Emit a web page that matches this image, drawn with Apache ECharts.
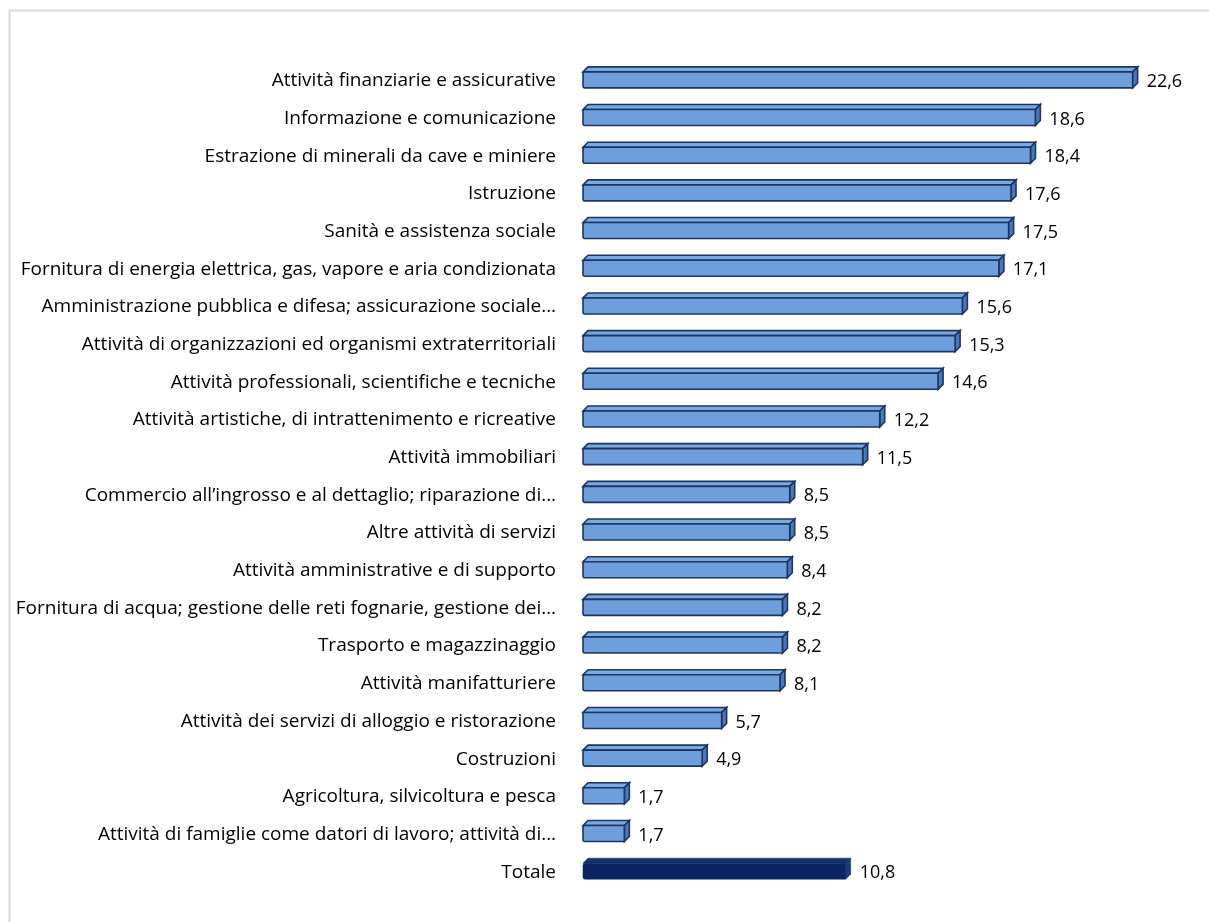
<!DOCTYPE html>
<html>
<head>
<meta charset="utf-8">
<script src="https://cdn.jsdelivr.net/npm/echarts@6/dist/echarts.min.js"></script>
<style>
  html, body { margin: 0; padding: 0; background: #fff; }
  #chart { width: 1209px; height: 922px; }
</style>
</head>
<body>
<div id="chart"></div>
<script>
var categories = [
  'Attività finanziarie e assicurative',
  'Informazione e comunicazione',
  'Estrazione di minerali da cave e miniere',
  'Istruzione',
  'Sanità e assistenza sociale',
  'Fornitura di energia elettrica, gas, vapore e aria condizionata',
  'Amministrazione pubblica e difesa; assicurazione sociale…',
  'Attività di organizzazioni ed organismi extraterritoriali',
  'Attività professionali, scientifiche e tecniche',
  'Attività artistiche, di intrattenimento e ricreative',
  'Attività immobiliari',
  'Commercio all’ingrosso e al dettaglio; riparazione di…',
  'Altre attività di servizi',
  'Attività amministrative e di supporto',
  'Fornitura di acqua; gestione delle reti fognarie, gestione dei…',
  'Trasporto e magazzinaggio',
  'Attività manifatturiere',
  'Attività dei servizi di alloggio e ristorazione',
  'Costruzioni',
  'Agricoltura, silvicoltura e pesca',
  'Attività di famiglie come datori di lavoro; attività di…',
  'Totale'
];
var values = [22.6, 18.6, 18.4, 17.6, 17.5, 17.1, 15.6, 15.3, 14.6, 12.2, 11.5,
  8.5, 8.5, 8.4, 8.2, 8.2, 8.1, 5.7, 4.9, 1.7, 1.7, 10.8];

var myChart = echarts.init(document.getElementById('chart'));

var D = 5; // profondità 3D

function renderBar(params, api) {
  var idx = api.value(0);
  var v = api.value(1);
  var p0 = api.coord([0, idx]);
  var p1 = api.coord([v, idx]);
  var x0 = p0[0], x1 = p1[0], cy = p0[1];
  var top = cy - 9, bot = cy + 7;
  var isTot = categories[idx] === 'Totale';
  var front = isTot ? '#0a2361' : '#6e9fdc';
  var topC = isTot ? '#14306f' : '#7aa9e2';
  var side = isTot ? '#1d3b7c' : '#4b78b8';
  var stroke = isTot ? '#0a2361' : '#1c3561';
  var lw = isTot ? 0.5 : 1.6;
  return {
    type: 'group',
    children: [
      {
        type: 'polygon',
        shape: { points: [[x0, top], [x0 + D, top - D], [x1 + D, top - D], [x1, top]] },
        style: { fill: topC, stroke: stroke, lineWidth: lw }
      },
      {
        type: 'polygon',
        shape: { points: [[x1, top], [x1 + D, top - D], [x1 + D, bot - D], [x1, bot]] },
        style: { fill: side, stroke: stroke, lineWidth: lw }
      },
      {
        type: 'rect',
        shape: { x: x0, y: top, width: x1 - x0, height: bot - top, r: [2, 0, 0, 2] },
        style: { fill: front, stroke: stroke, lineWidth: lw }
      },
      {
        type: 'text',
        x: x1 + D + 9,
        y: cy + 1,
        style: {
          text: v.toFixed(1).replace('.', ','),
          fill: '#000',
          font: '18px "Open Sans"',
          verticalAlign: 'middle',
          align: 'left'
        }
      }
    ]
  };
}

var option = {
  backgroundColor: '#fff',
  animation: false,
  graphic: [{
    type: 'rect',
    shape: { x: 9.5, y: 10.5, width: 1230, height: 940 },
    style: { fill: 'none', stroke: '#d9d9d9', lineWidth: 2 },
    silent: true
  }],
  grid: { left: 583, right: 18, top: 62, bottom: 31 },
  xAxis: {
    type: 'value',
    min: 0,
    max: 25,
    show: false,
    splitLine: { show: false }
  },
  yAxis: {
    type: 'category',
    data: categories,
    inverse: true,
    axisLine: { show: false },
    axisTick: { show: false },
    axisLabel: {
      color: '#000',
      fontSize: 19,
      fontFamily: 'Open Sans',
      margin: 27,
      padding: [3, 0, 0, 0]
    }
  },
  series: [{
    type: 'custom',
    renderItem: renderBar,
    encode: { x: 1, y: 0 },
    data: values.map(function (v, i) { return [i, v]; })
  }]
};

myChart.setOption(option);
</script>
</body>
</html>
